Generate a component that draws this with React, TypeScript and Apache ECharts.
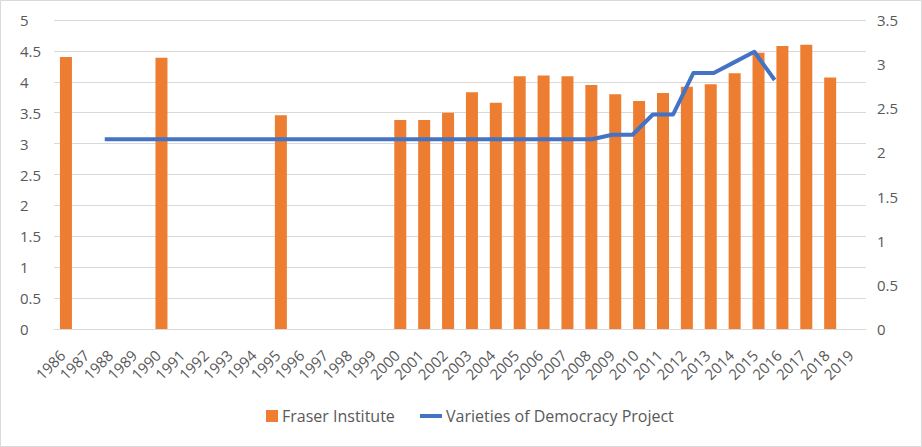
import React, { useEffect, useRef } from "react";
import * as echarts from "echarts";

const years = [
  "1986", "1987", "1988", "1989", "1990", "1991", "1992", "1993", "1994", "1995",
  "1996", "1997", "1998", "1999", "2000", "2001", "2002", "2003", "2004", "2005",
  "2006", "2007", "2008", "2009", "2010", "2011", "2012", "2013", "2014", "2015",
  "2016", "2017", "2018", "2019",
];

const fraserValues: (number | null)[] = [
  4.40, null, null, null, 4.39, null, null, null, null, 3.46,
  null, null, null, null, 3.38, 3.38, 3.50, 3.83, 3.66, 4.09,
  4.10, 4.09, 3.95, 3.80, 3.69, 3.82, 3.92, 3.96, 4.14, 4.47,
  4.58, 4.60, 4.07, null,
];

// Secondary (hidden) horizontal axis used by the line series in the original chart
const lineSlots = [
  "s0", "s1", "s2", "s3", "s4", "s5", "s6", "s7", "s8", "s9",
  "s10", "s11", "s12", "s13", "s14", "s15", "s16", "s17", "s18", "s19",
  "s20", "s21", "s22", "s23", "s24", "s25", "s26", "s27", "s28", "s29",
  "s30", "s31", "s32", "s33", "s34", "s35", "s36", "s37", "s38", "s39",
];

const vdemValues: (number | null)[] = [
  null, null,
  2.15, 2.15, 2.15, 2.15, 2.15, 2.15, 2.15, 2.15, 2.15, 2.15,
  2.15, 2.15, 2.15, 2.15, 2.15, 2.15, 2.15, 2.15, 2.15, 2.15,
  2.15, 2.15, 2.15, 2.15, 2.15, 2.20, 2.20, 2.43, 2.43, 2.90,
  2.90, 3.02, 3.14, 2.82,
  null, null, null, null,
];

const leftTicks = { min: 0, max: 5, interval: 0.5 };
const rightTicks = { min: 0, max: 3.5, interval: 0.5 };

const FONT = "'Open Sans', sans-serif";
const TEXT = "#595959";
const GRID = "#d9d9d9";

export default function App() {
  const ref = useRef<HTMLDivElement>(null);
  useEffect(() => {
    if (!ref.current) return;
    const chart = echarts.init(ref.current, undefined, { renderer: "svg" });
    chart.setOption({
      animation: false,
      backgroundColor: "#ffffff",
      textStyle: { fontFamily: FONT, color: TEXT },
      graphic: [
        {
          type: "rect",
          shape: { x: 0.5, y: 0.5, width: 921, height: 446 },
          style: { fill: "none", stroke: GRID, lineWidth: 1 },
          silent: true,
        },
      ],
      grid: { left: 54, right: 56, top: 20, bottom: 118, containLabel: false },
      legend: [
        {
          data: [{ name: "Fraser Institute", icon: "rect" }],
          left: 266,
          top: 408,
          itemWidth: 12,
          itemHeight: 12,
          itemGap: 0,
          textStyle: { fontFamily: FONT, fontSize: 16, color: TEXT, padding: [0, 0, 0, -1] },
          padding: 0,
        },
        {
          data: [{ name: "Varieties of Democracy Project", icon: "rect" }],
          left: 420,
          top: 408,
          itemWidth: 22,
          itemHeight: 4,
          itemGap: 0,
          textStyle: { fontFamily: FONT, fontSize: 16, color: TEXT, padding: [0, 0, 0, -1] },
          padding: 0,
        },
      ],
      xAxis: [
        {
          type: "category",
          data: years,
          boundaryGap: true,
          axisLine: { show: true, lineStyle: { color: GRID, width: 1 } },
          axisTick: { show: false },
          axisLabel: {
            interval: 0,
            rotate: 45,
            margin: 20,
            padding: [0, 5, 0, 0],
            fontSize: 15,
            color: TEXT,
            fontFamily: FONT,
          },
        },
        {
          type: "category",
          data: lineSlots,
          boundaryGap: true,
          show: false,
          position: "bottom",
        },
      ],
      yAxis: [
        {
          type: "value",
          ...leftTicks,
          position: "left",
          axisLine: { show: false },
          axisTick: { show: false },
          splitLine: { show: true, lineStyle: { color: GRID, width: 1 } },
          axisLabel: {
            margin: 34,
            align: "left",
            fontSize: 15,
            color: TEXT,
            fontFamily: FONT,
          },
        },
        {
          type: "value",
          ...rightTicks,
          position: "right",
          axisLine: { show: false },
          axisTick: { show: false },
          splitLine: { show: false },
          axisLabel: {
            margin: 11,
            align: "left",
            fontSize: 15,
            color: TEXT,
            fontFamily: FONT,
          },
        },
      ],
      series: [
        {
          name: "Fraser Institute",
          type: "bar",
          xAxisIndex: 0,
          yAxisIndex: 0,
          data: fraserValues,
          barWidth: 12,
          itemStyle: { color: "#ED7D31" },
        },
        {
          name: "Varieties of Democracy Project",
          type: "line",
          xAxisIndex: 1,
          yAxisIndex: 1,
          data: vdemValues,
          showSymbol: false,
          symbol: "none",
          connectNulls: false,
          lineStyle: { color: "#4472C4", width: 4, join: "round" },
          itemStyle: { color: "#4472C4" },
        },
      ],
    });
    return () => chart.dispose();
  }, []);
  return (
    <div
      ref={ref}
      style={{ position: "fixed", left: 0, top: 0, width: 922, height: 447 }}
    />
  );
}
